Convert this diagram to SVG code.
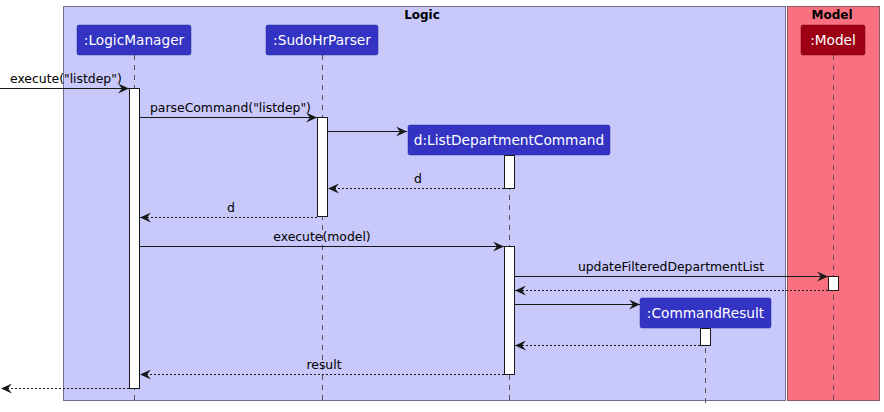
<svg xmlns="http://www.w3.org/2000/svg" width="884" height="412" viewBox="0 0 884 412">
<style>
.lbl{font-family:"DejaVu Sans","Liberation Sans",sans-serif;font-size:12.4px;fill:#000}
.ptxt{font-family:"DejaVu Sans","Liberation Sans",sans-serif;font-size:13.7px;fill:#fff;text-anchor:middle}
.title{font-family:"DejaVu Sans","Liberation Sans",sans-serif;font-size:12px;font-weight:bold;fill:#000;text-anchor:middle}
.life{stroke:#555;stroke-width:1;stroke-dasharray:5,5}
.act{fill:#fff;stroke:#181818;stroke-width:1}
.msg{stroke:#181818;stroke-width:1;fill:none}
.ret{stroke:#181818;stroke-width:1;fill:none;stroke-dasharray:2,2}
.lp{fill:#3333C4;stroke:#2a2aa0;stroke-width:0.5}
.mp{fill:#9D0012;stroke:#7a000e;stroke-width:0.5}
</style>
<defs>
<marker id="ah" viewBox="0 0 12 10" refX="11" refY="5" markerWidth="12" markerHeight="10" markerUnits="userSpaceOnUse" orient="auto">
<path d="M0,0 L11,5 L0,10 L4,5 Z" fill="#181818"/>
</marker>
</defs>
<g id="box-logic">
<rect x="63.5" y="6.5" width="722" height="394" fill="#C8C8FA" stroke="#6e6e8a" stroke-width="1"/>
<text class="title" x="422" y="19">Logic</text>
</g>
<g id="box-model">
<rect x="787.5" y="6.5" width="92" height="394" fill="#F97181" stroke="#8a5a60" stroke-width="1"/>
<text class="title" x="832" y="19">Model</text>
</g>
<g id="lifelines">
<line class="life" x1="134.5" y1="55" x2="134.5" y2="403"/>
<line class="life" x1="322.5" y1="55" x2="322.5" y2="403"/>
<line class="life" x1="509.5" y1="155" x2="509.5" y2="403"/>
<line class="life" x1="705.5" y1="328" x2="705.5" y2="403"/>
<line class="life" x1="833.5" y1="55" x2="833.5" y2="403"/>
</g>
<g id="LogicManager">
<rect class="lp" x="77" y="25" width="114" height="30" rx="2"/>
<text class="ptxt" x="134" y="45">:LogicManager</text>
<rect class="act" x="129.5" y="88.5" width="10" height="300"/>
</g>
<g id="SudoHrParser">
<rect class="lp" x="266" y="25" width="112" height="30" rx="2"/>
<text class="ptxt" x="322" y="45">:SudoHrParser</text>
<rect class="act" x="317.5" y="117.5" width="10" height="99"/>
</g>
<g id="ListDepartmentCommand">
<rect class="lp" x="408" y="125" width="202" height="30" rx="2"/>
<text class="ptxt" x="509" y="145">d:ListDepartmentCommand</text>
<rect class="act" x="504.5" y="155.5" width="10" height="33"/>
<rect class="act" x="504.5" y="246.5" width="10" height="128"/>
</g>
<g id="CommandResult">
<rect class="lp" x="640" y="298" width="131" height="30" rx="2"/>
<text class="ptxt" x="705.5" y="318">:CommandResult</text>
<rect class="act" x="700.5" y="328.5" width="10" height="17"/>
</g>
<g id="Model">
<rect class="mp" x="801" y="25" width="64" height="30" rx="2"/>
<text class="ptxt" x="833" y="45">:Model</text>
<rect class="act" x="828.5" y="276.5" width="10" height="14"/>
</g>
<g id="connectors">
<line class="msg" x1="0" y1="88.5" x2="129" y2="88.5" marker-end="url(#ah)"/>
<text class="lbl" x="10" y="83">execute("listdep")</text>
<line class="msg" x1="140" y1="117.5" x2="317" y2="117.5" marker-end="url(#ah)"/>
<text class="lbl" x="150" y="112">parseCommand("listdep")</text>
<line class="msg" x1="328" y1="131.5" x2="407" y2="131.5" marker-end="url(#ah)"/>
<line class="ret" x1="504" y1="188.5" x2="328" y2="188.5" marker-end="url(#ah)"/>
<text class="lbl" x="418" y="183" text-anchor="middle">d</text>
<line class="ret" x1="317" y1="217.5" x2="140" y2="217.5" marker-end="url(#ah)"/>
<text class="lbl" x="231" y="212" text-anchor="middle">d</text>
<line class="msg" x1="140" y1="246.5" x2="504" y2="246.5" marker-end="url(#ah)"/>
<text class="lbl" x="322" y="241" text-anchor="middle">execute(model)</text>
<line class="msg" x1="515" y1="276.5" x2="828" y2="276.5" marker-end="url(#ah)"/>
<text class="lbl" x="671" y="271" text-anchor="middle">updateFilteredDepartmentList</text>
<line class="ret" x1="828" y1="290.5" x2="515" y2="290.5" marker-end="url(#ah)"/>
<line class="msg" x1="515" y1="304.5" x2="640" y2="304.5" marker-end="url(#ah)"/>
<line class="ret" x1="700" y1="345.5" x2="515" y2="345.5" marker-end="url(#ah)"/>
<line class="ret" x1="504" y1="374.5" x2="140" y2="374.5" marker-end="url(#ah)"/>
<text class="lbl" x="324" y="369" text-anchor="middle">result</text>
<line class="ret" x1="129" y1="388.5" x2="1" y2="388.5" marker-end="url(#ah)"/>
</g>
</svg>
